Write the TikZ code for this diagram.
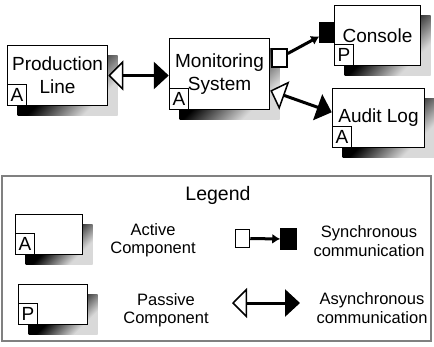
\documentclass[tikz,border=0pt]{standalone}
\usepackage{fontspec}
\setmainfont{Liberation Sans}
\usetikzlibrary{arrows.meta,shadows}
\pgfdeclarehorizontalshading{shadowfade}{100bp}{color(0bp)=(black); color(45bp)=(black);
	color(70bp)=(white!85!black); color(100bp)=(white!85!black)}
\tikzset{
	comp/.style={draw, line width=1.5pt, fill=white, inner sep=0pt, align=center,
		font=\fontsize{19}{23}\selectfont,
		general shadow={shading=shadowfade, shading angle=-45, shadow xshift=10pt, shadow yshift=-10pt}},
	tag/.style={draw, line width=1.5pt, fill=white, inner sep=0pt, minimum width=19pt,
		minimum height=21pt, anchor=south west, font=\fontsize{19}{19}\selectfont},
	port/.style={draw, line width=1.5pt, fill=white, inner sep=0pt},
	txt/.style={align=center, font=\fontsize{16.5}{18.5}\selectfont},
	async/.style={line width=3pt,
		arrows={Triangle[open, fill=white, length=15pt, width=30pt, line width=1.5pt]-Triangle[length=15pt, width=27pt]}},
	sync/.style={line width=3pt, -{Latex[length=8pt, width=10pt]}}
}
\begin{document}
\begin{tikzpicture}[x=1pt, y=-1pt]
		\useasboundingbox (0,0) rectangle (434,346);
		% components
		\node (PL) at (57.5,75.5) [comp, minimum width=100pt, minimum height=60pt] {Production\\Line};
		\node (PLa) at (PL.south west) [tag] {A};
		\node (MS) at (219.5,74) [comp, minimum width=100pt, minimum height=71pt] {Monitoring\\System};
		\node (MSa) at (MS.south west) [tag] {A};
		\node (CO) at (377.5,35.5) [comp, minimum width=86pt, minimum height=60pt] {Console};
		\node (COp) at (CO.south west) [tag] {P};
		\node (AL) at (378.5,118) [comp, minimum width=92pt, minimum height=59pt] {Audit Log};
		\node (ALa) at (AL.south west) [tag] {A};
		
		\node (MSs) at (279.5,58) [port, minimum width=15pt, minimum height=18pt] {};
		\node (COs) at (326.5,32.5) [port, fill=black, minimum width=13pt, minimum height=19pt] {};
		
		\draw [async] (PL.east) -- (PL.east -| MS.west);
		\draw [sync] (MSs) -- (COs);
		\draw [async] (MS.-18) -- (AL.173);
		
		% legend
		\node (frame) at (216.5,258.5) [draw=gray, line width=2pt, minimum width=429pt, minimum height=165pt] {};
		\node (title) at (218,195) [font=\fontsize{19.5}{23}\selectfont] {Legend};
		
		\node (act) at (49,234.5) [comp, minimum width=67pt, minimum height=40pt] {};
		\node (acta) at (act.south west) [tag] {A};
		\node (acttxt) at (153,240) [txt] {Active\\Component};
		\node (pas) at (53,304.5) [comp, minimum width=69pt, minimum height=40pt] {};
		\node (pasp) at (pas.south west) [tag] {P};
		\node (pastxt) at (166,310) [txt] {Passive\\Component};
		
		\node (s1) at (242.5,238.5) [port, minimum width=14pt, minimum height=18pt] {};
		\node (s2) at (288.5,239) [port, fill=black, minimum width=15pt, minimum height=20pt] {};
		\draw [sync] (s1) -- (s2);
		\node (synctxt) at (369,241) [txt] {Synchronous\\communication};
		
		\coordinate (a1) at (232,303);
		\coordinate (a2) at (300,303);
		\draw [async] (a1) -- (a2);
		\node (asynctxt) at (372,308) [txt] {Asynchronous\\communication};
		\end{tikzpicture}
\end{document}
